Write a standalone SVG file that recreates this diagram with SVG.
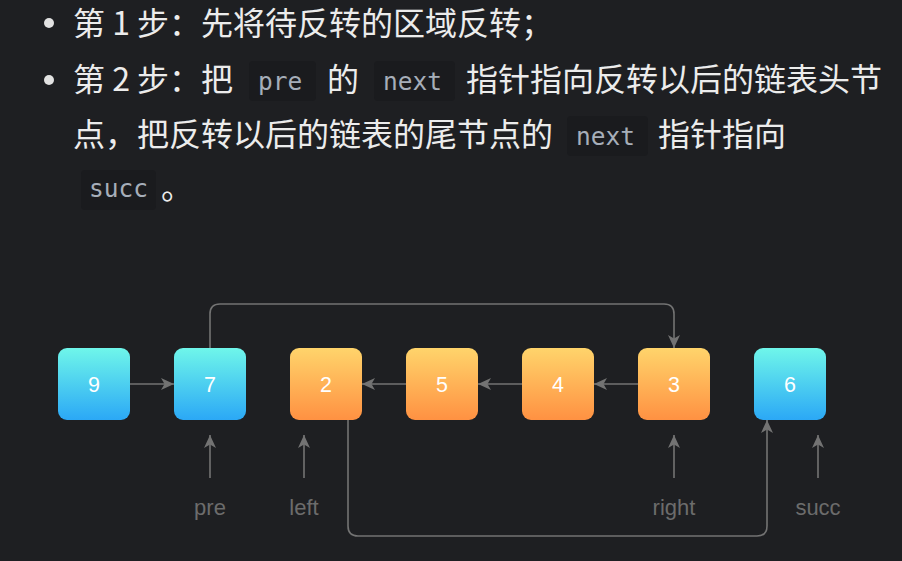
<svg xmlns="http://www.w3.org/2000/svg" width="902" height="561" viewBox="0 0 902 561">
<defs>
<linearGradient id="gCyan" x1="0" y1="0" x2="0" y2="1">
<stop offset="0" stop-color="#6ff6ea"/>
<stop offset="1" stop-color="#2ba8f6"/>
</linearGradient>
<linearGradient id="gOrange" x1="0" y1="0" x2="0" y2="1">
<stop offset="0" stop-color="#ffd46b"/>
<stop offset="1" stop-color="#ff9142"/>
</linearGradient>
<marker id="arrow" markerUnits="userSpaceOnUse" markerWidth="14" markerHeight="12" refX="13" refY="6" orient="auto">
<path d="M0,0 L13,6 L0,12 L3.5,6 Z" fill="#737373"/>
</marker>
</defs>
<style>
.cjk{font-family:"Noto Sans CJK SC","Noto Sans",sans-serif;font-size:32px;fill:#ececec}
.code{font-family:"DejaVu Sans Mono","Liberation Mono",monospace;font-size:24.5px;fill:#a6aeb9}
.codebg{fill:#1a1b1e}
.bullet{fill:#e2e2e2}
.node text{font-family:"Liberation Sans",Arial,sans-serif;font-size:21.5px;fill:#ffffff;text-anchor:middle}
.lbl{font-family:"Liberation Sans",Arial,sans-serif;font-size:22px;fill:#6c6c6c;text-anchor:middle}
.conn path{fill:none;stroke:#737373;stroke-width:1.6;marker-end:url(#arrow)}
</style>
<rect width="902" height="561" fill="#1e1f22"/>

<g id="text-block">
<circle class="bullet" cx="49" cy="23" r="5"/>
<text class="cjk" x="73" y="35">第 1 步：先将待反转的区域反转；</text>
<circle class="bullet" cx="49" cy="80" r="5"/>
<text class="cjk" x="73" y="91">第 2 步：把</text>
<rect class="codebg" x="249" y="61" width="67" height="40" rx="4"/>
<text class="code" x="258" y="90">pre</text>
<text class="cjk" x="327" y="91">的</text>
<rect class="codebg" x="374" y="61" width="81" height="40" rx="4"/>
<text class="code" x="383" y="90">next</text>
<text class="cjk" x="466" y="91">指针指向反转以后的链表头节</text>
<text class="cjk" x="73" y="146">点，把反转以后的链表的尾节点的</text>
<rect class="codebg" x="567" y="116" width="81" height="40" rx="4"/>
<text class="code" x="576" y="145">next</text>
<text class="cjk" x="658" y="146">指针指向</text>
<rect class="codebg" x="81" y="170" width="75" height="40" rx="4"/>
<text class="code" x="89" y="197">succ</text>
<text class="cjk" x="161" y="199">。</text>
</g>

<g id="node-9" class="node"><rect x="58" y="348" width="72" height="72" rx="9" fill="url(#gCyan)"/><text x="94" y="392">9</text></g>
<g id="node-7" class="node"><rect x="174" y="348" width="72" height="72" rx="9" fill="url(#gCyan)"/><text x="210" y="392">7</text></g>
<g id="node-2" class="node"><rect x="290" y="348" width="72" height="72" rx="9" fill="url(#gOrange)"/><text x="326" y="392">2</text></g>
<g id="node-5" class="node"><rect x="406" y="348" width="72" height="72" rx="9" fill="url(#gOrange)"/><text x="442" y="392">5</text></g>
<g id="node-4" class="node"><rect x="522" y="348" width="72" height="72" rx="9" fill="url(#gOrange)"/><text x="558" y="392">4</text></g>
<g id="node-3" class="node"><rect x="638" y="348" width="72" height="72" rx="9" fill="url(#gOrange)"/><text x="674" y="392">3</text></g>
<g id="node-6" class="node"><rect x="754" y="348" width="72" height="72" rx="9" fill="url(#gCyan)"/><text x="790" y="392">6</text></g>

<g id="connectors" class="conn">
<path d="M130,384 H174"/>
<path d="M406,384 H362"/>
<path d="M522,384 H478"/>
<path d="M638,384 H594"/>
<path d="M210,348 V314 Q210,304 220,304 H664 Q674,304 674,314 V348"/>
<path d="M348,420 V526 Q348,536 358,536 H757 Q767,536 767,526 V420"/>
<path d="M210,478 V435"/>
<path d="M304,478 V435"/>
<path d="M674,478 V435"/>
<path d="M818,478 V435"/>
</g>

<g id="labels">
<text class="lbl" x="210" y="515">pre</text>
<text class="lbl" x="304" y="515">left</text>
<text class="lbl" x="674" y="515">right</text>
<text class="lbl" x="818" y="515">succ</text>
</g>
</svg>
